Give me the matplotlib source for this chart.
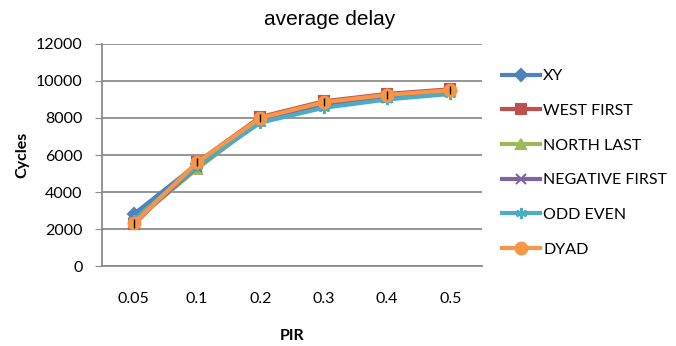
import matplotlib.pyplot as plt
import numpy as np

pir = ['0.05', '0.1', '0.2', '0.3', '0.4', '0.5']
xy = [2800, 5500, 7900, 8700, 9150, 9450]
west_first = [2250, 5600, 8050, 8900, 9300, 9550]
north_last = [2400, 5250, 7850, 8700, 9150, 9450]
negative_first = [2400, 5350, 7850, 8650, 9100, 9400]
odd_even = [2500, 5400, 7750, 8550, 9000, 9300]
dyad = [2300, 5600, 8000, 8850, 9250, 9500]
dyad_err = [220, 220, 220, 220, 220, 220]

plt.rcParams['font.family'] = ['Lato', 'DejaVu Sans']

fig = plt.figure(figsize=(6.76, 3.46), dpi=100)
ax = fig.add_axes([0.151, 0.231, 0.562, 0.642])

x = np.arange(len(pir))
series = [
    ('XY', xy, '#4F81BD', 'D', 6.5),
    ('WEST FIRST', west_first, '#C0504D', 's', 7),
    ('NORTH LAST', north_last, '#9BBB59', '^', 7.5),
    ('NEGATIVE FIRST', negative_first, '#8064A2', 'x', 7),
    ('ODD EVEN', odd_even, '#4BACC6', (6, 2, 0), 8),
    ('DYAD', dyad, '#F79646', 'o', 8.5),
]
for name, vals, col, mk, ms in series:
    ax.plot(x, vals, color=col, lw=3, marker=mk, ms=ms, mfc=col, mec=col,
            mew=1.5, label=name)
ax.errorbar(x, dyad, yerr=dyad_err, fmt='none', ecolor='black', elinewidth=1,
            capsize=0)

ax.set_xlim(-0.5, len(pir) - 0.5)
ax.set_ylim(0, 12000)
ax.set_yticks(range(0, 12001, 2000))
ax.set_xticks(x)
ax.set_xticklabels(pir)
ax.yaxis.grid(True, color='#8c8c8c', lw=1.3)
ax.set_axisbelow(True)
for s in ['top', 'right']:
    ax.spines[s].set_visible(False)
for s in ['left', 'bottom']:
    ax.spines[s].set_color('#8c8c8c')
    ax.spines[s].set_linewidth(1.3)
ax.tick_params(axis='y', length=5, color='#8c8c8c', labelsize=11.5, pad=9)
ax.tick_params(axis='x', length=0, labelsize=11.5, pad=19)

fig.text(0.488, 0.945, 'average delay', fontsize=15, family='Liberation Sans',
         ha='center', va='center')
ax.set_ylabel('Cycles', fontsize=11.5, fontweight='bold', labelpad=5)
ax.set_xlabel('PIR', fontsize=11.5, fontweight='bold', labelpad=16)

ax.legend(loc='upper left', bbox_to_anchor=(1.035, 0.915), frameon=False,
          fontsize=11.5, handlelength=2.4, labelspacing=1.28, handletextpad=0.2,
          borderaxespad=0)

fig.savefig('out.png', dpi=100)
